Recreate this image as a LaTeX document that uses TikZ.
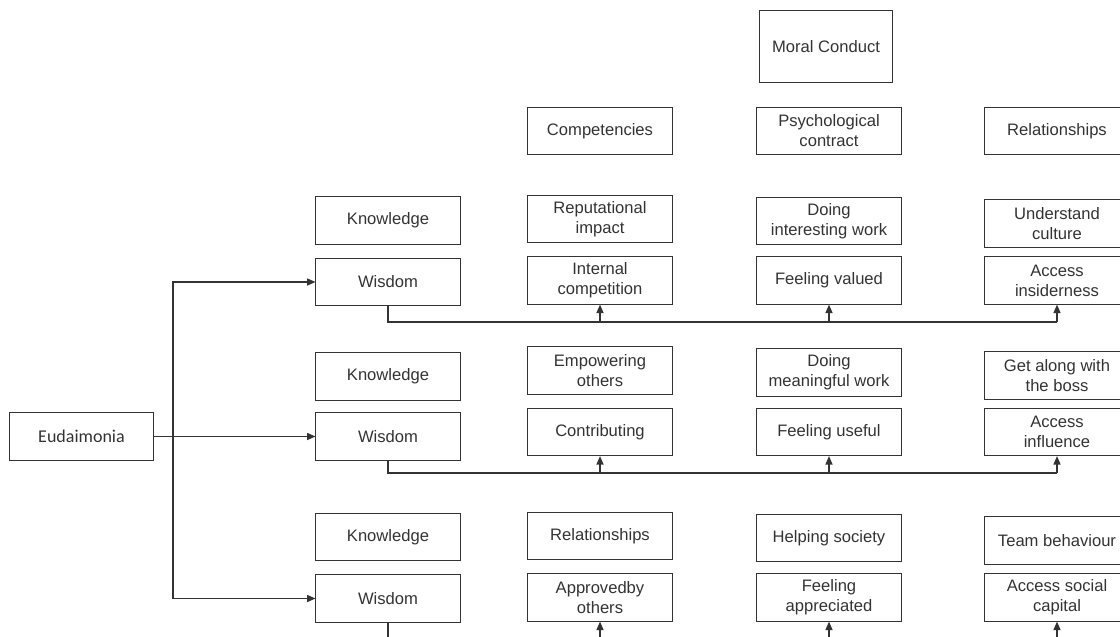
\documentclass[tikz,border=0pt]{standalone}
\usepackage{fontspec}
\setmainfont{Liberation Sans}
\newfontfamily\calibrifont{Carlito}
\usetikzlibrary{arrows.meta}
\definecolor{ink}{HTML}{333333}
\tikzset{
  box/.style={draw=ink, text=ink, line width=0.7pt, minimum width=3.6cm,
    minimum height=1.18cm, inner sep=1pt, align=center,
    font=\fontsize{11.8}{14.2}\selectfont},
  tri/.tip={Triangle[length=6pt,width=5pt]}
}
\begin{document}
\begin{tikzpicture}[x=0.025cm,y=-0.025cm]
      \clip (0,0) rectangle (1120,637);
      \draw
        (826,46.5) node[box,minimum width=3.3cm,minimum height=1.78cm] (mc){Moral Conduct}
        (600,131) node[box] (h1){Competencies}
        (829,131) node[box] (h2){Psychological\\contract}
        (1057,131) node[box] (h3){Relationships}
        (81.5,436.5) node[box,font=\calibrifont\fontsize{12.8}{15}\selectfont] (eu){Eudaimonia};
      % first row
      \draw
        (388,220.5) node[box] (k1){Knowledge}
        (388,282) node[box] (w1){Wisdom}
        (600,219) node[box] (a1){Reputational\\impact}
        (829,221) node[box] (b1){Doing\\interesting work}
        (1057,223.5) node[box] (c1){Understand\\culture}
        (600,280.5) node[box] (d1){Internal\\competition}
        (829,280.5) node[box] (e1){Feeling valued}
        (1057,280.5) node[box] (f1){Access\\insiderness};
      % second row
      \draw
        (388,376.5) node[box] (k2){Knowledge}
        (388,436.5) node[box] (w2){Wisdom}
        (600,370.5) node[box] (a2){Empowering\\others}
        (829,372.5) node[box] (b2){Doing\\meaningful work}
        (1057,375.5) node[box] (c2){Get along with\\the boss}
        (600,432) node[box] (d2){Contributing}
        (829,432) node[box] (e2){Feeling useful}
        (1057,432) node[box] (f2){Access\\influence};
      % third row
      \draw
        (388,537) node[box] (k3){Knowledge}
        (388,598.5) node[box] (w3){Wisdom}
        (600,536) node[box] (a3){Relationships}
        (829,538) node[box] (b3){Helping society}
        (1057,540.5) node[box] (c3){Team behaviour}
        (600,597.5) node[box] (d3){Approvedby\\others}
        (829,597.5) node[box] (e3){Feeling\\appreciated}
        (1057,597.5) node[box] (f3){Access social\\capital};
      \coordinate (v) at (173,436.5);
      \coordinate (l1) at (0,322);
      \coordinate (l2) at (0,473);
      \coordinate (l3) at (0,650);
      \begin{scope}[draw=ink, line width=0.9pt, -tri]
        \draw (eu) to (w2);
        \draw[tri-tri] (w1.west) -| (v) |- (w3.west);
        \draw[-] (w1.south) |- (f1.south |- l1);
        \draw (d1.south |- l1) to (d1.south);
        \draw (e1.south |- l1) to (e1.south);
        \draw (f1.south |- l1) to (f1.south);
        \draw[-] (w2.south) |- (f2.south |- l2);
        \draw (d2.south |- l2) to (d2.south);
        \draw (e2.south |- l2) to (e2.south);
        \draw (f2.south |- l2) to (f2.south);
        \draw[-] (w3.south) |- (f3.south |- l3);
        \draw (d3.south |- l3) to (d3.south);
        \draw (e3.south |- l3) to (e3.south);
        \draw (f3.south |- l3) to (f3.south);
      \end{scope}
    \end{tikzpicture}
\end{document}
